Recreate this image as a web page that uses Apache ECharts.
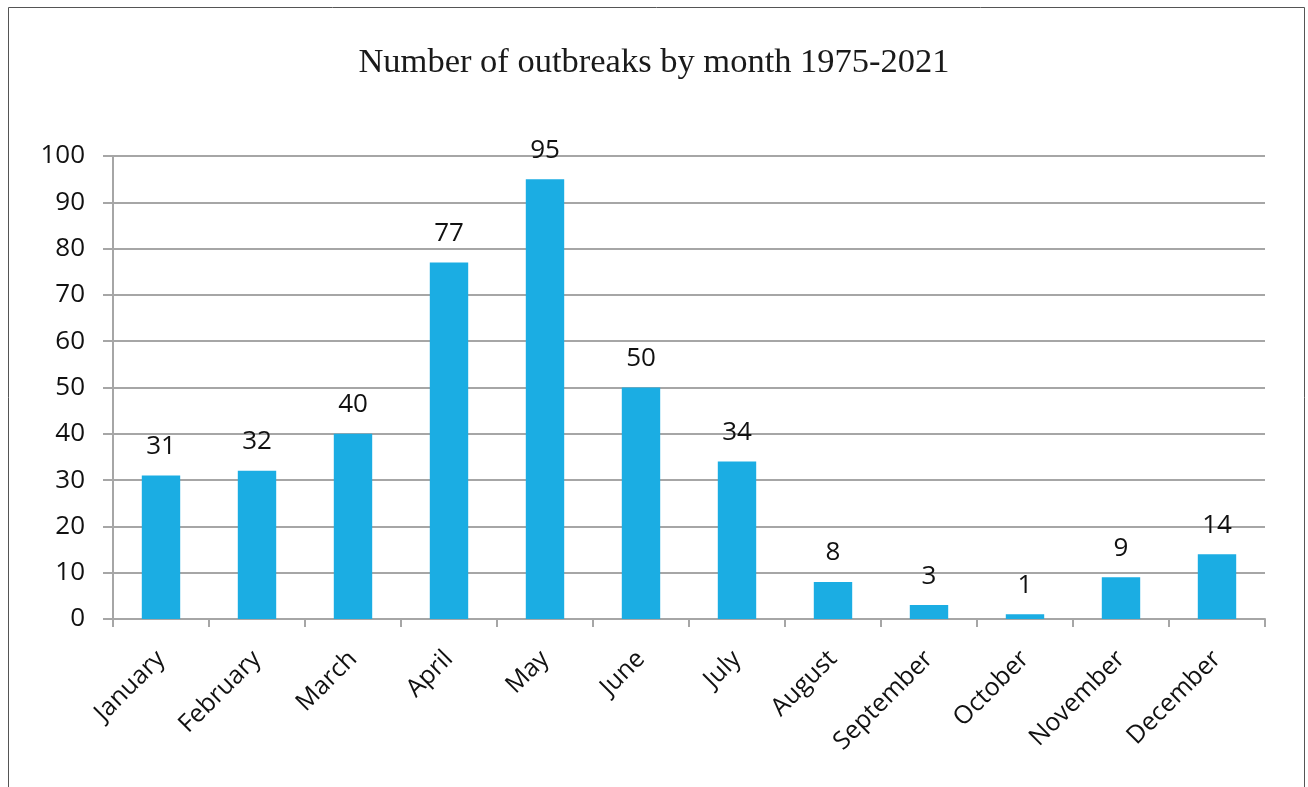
<!DOCTYPE html>
<html style="height: 100%">
    <head>
        <meta charset="utf-8">
        <script type="text/javascript" src="https://cdn.jsdelivr.net/npm/echarts@6/dist/echarts.min.js"></script>
    </head>
    <body style="height: 100%; margin: 0; background-color: #ffffff">
        <div id="container" style="width: 1308px; height: 787px"></div>
        <script type="text/javascript">
        // data
        var months = ['January', 'February', 'March', 'April', 'May', 'June',
                      'July', 'August', 'September', 'October', 'November', 'December'];
        var outbreaks = [31, 32, 40, 77, 95, 50, 34, 8, 3, 1, 9, 14];
        var titleText = 'Number of outbreaks by month 1975-2021';

        var dom = document.getElementById("container");
        var chart = echarts.init(dom);
        var axisGray = '#a6a6a6';
        option = {
            animation: false,
            backgroundColor: '#ffffff',
            title: {
                text: titleText,
                left: 'center',
                top: 40,
                textStyle: {
                    fontFamily: 'Liberation Serif',
                    fontWeight: 'normal',
                    fontSize: 34.5,
                    color: '#1a1a1a'
                }
            },
            graphic: [{
                type: 'rect',
                shape: { x: 8.5, y: 7.5, width: 1296, height: 790 },
                style: { fill: 'none', stroke: '#555555', lineWidth: 1 },
                silent: true
            }],
            grid: {
                left: 113,
                right: 43,
                top: 156,
                bottom: 168
            },
            xAxis: {
                type: 'category',
                data: months,
                axisLine: { lineStyle: { color: axisGray, width: 2 } },
                axisTick: { show: true, alignWithLabel: false, length: 8, lineStyle: { color: axisGray, width: 2 } },
                axisLabel: {
                    rotate: 45,
                    interval: 0,
                    margin: 36,
                    fontFamily: 'Open Sans',
                    fontSize: 25,
                    color: '#111111'
                }
            },
            yAxis: {
                type: 'value',
                min: 0,
                max: 100,
                interval: 10,
                axisLine: { show: true, lineStyle: { color: axisGray, width: 2 } },
                axisTick: { show: true, length: 10, lineStyle: { color: axisGray, width: 2 } },
                splitLine: { lineStyle: { color: axisGray, width: 2 } },
                axisLabel: {
                    margin: 28,
                    fontFamily: 'Open Sans',
                    fontSize: 26,
                    color: '#111111'
                }
            },
            series: [{
                name: 'Outbreaks',
                type: 'bar',
                data: outbreaks,
                barWidth: '40%',
                itemStyle: { color: '#1bade3' },
                label: {
                    show: true,
                    position: 'top',
                    distance: 16,
                    fontFamily: 'Open Sans',
                    fontSize: 26,
                    color: '#111111'
                }
            }]
        };
        if (option && typeof option === 'object') {
            chart.setOption(option);
        }
        </script>
    </body>
</html>
